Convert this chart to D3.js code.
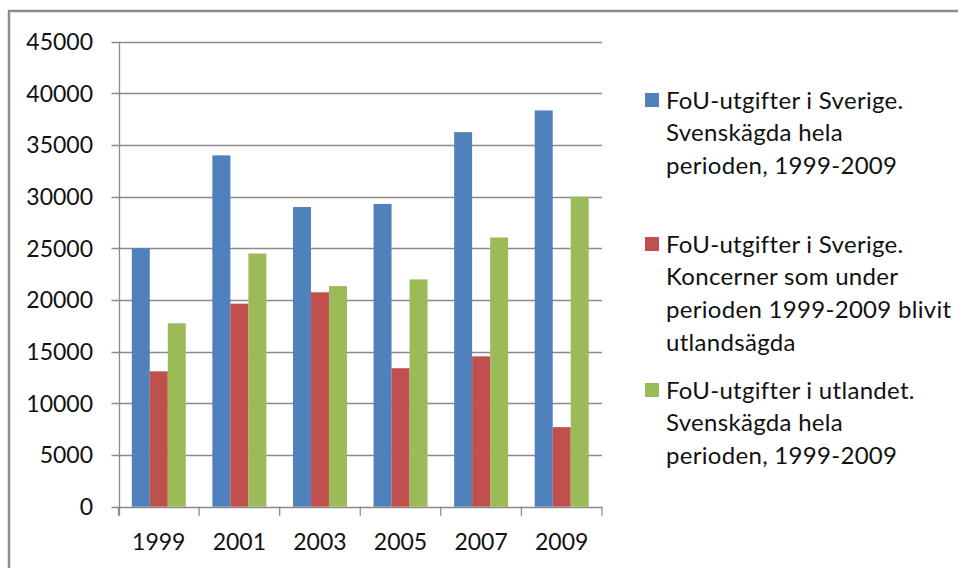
<!DOCTYPE html>
<html>
<head>
<meta charset="utf-8">
<script src="https://cdn.jsdelivr.net/npm/d3@7"></script>
<style>
  body { margin: 0; background: #fff; }
  svg { display: block; font-family: Lato, "Open Sans", sans-serif; }
</style>
</head>
<body>
<svg id="chart" width="958" height="568"></svg>
<script>
var years = ['1999', '2001', '2003', '2005', '2007', '2009'];
var sverigeSvensk = [25000, 34000, 29000, 29300, 36250, 38350];
var sverigeUtland = [13100, 19650, 20750, 13400, 14550, 7700];
var utlandetSvensk = [17750, 24500, 21350, 22000, 26050, 30000];
var yTicks = [0, 5000, 10000, 15000, 20000, 25000, 30000, 35000, 40000, 45000];

var seriesNames = [
  ['FoU-utgifter i Sverige.', 'Svenskägda hela', 'perioden, 1999-2009'],
  ['FoU-utgifter i Sverige.', 'Koncerner som under', 'perioden 1999-2009 blivit', 'utlandsägda'],
  ['FoU-utgifter i utlandet.', 'Svenskägda hela', 'perioden, 1999-2009']
];
var colors = ['#4f81bd', '#c0504d', '#9bbb59'];
var values = [sverigeSvensk, sverigeUtland, utlandetSvensk];

(function() {
  var svg = d3.select('#chart');

  // outer frame (only left and top visible)
  svg.append('path')
    .attr('d', 'M9,568V11H958')
    .attr('fill', 'none')
    .attr('stroke', '#8c8c8c')
    .attr('stroke-width', 2.5);

  var plotLeft = 118.5, plotRight = 602, plotTop = 41.7, plotBottom = 506.7;

  var y = d3.scaleLinear()
    .domain([0, 45000])
    .range([plotBottom, plotTop]);

  var x0 = d3.scaleBand()
    .domain(years)
    .range([plotLeft, plotRight])
    .paddingInner(0.33)
    .paddingOuter(0.165);

  var x1 = d3.scaleBand()
    .domain([0, 1, 2])
    .range([0, x0.bandwidth()]);

  // gridlines
  svg.append('g')
    .selectAll('line')
    .data(yTicks)
    .enter().append('line')
      .attr('x1', plotLeft - 7)
      .attr('x2', plotRight)
      .attr('y1', function(d) { return Math.round(y(d)) + 0.5; })
      .attr('y2', function(d) { return Math.round(y(d)) + 0.5; })
      .attr('stroke', '#8a8a8a')
      .attr('stroke-width', 1.3);

  // y labels
  svg.append('g')
    .selectAll('text')
    .data(yTicks)
    .enter().append('text')
      .attr('x', 93)
      .attr('y', function(d) { return y(d); })
      .attr('dy', '0.36em')
      .attr('text-anchor', 'end')
      .attr('font-size', 23)
      .attr('fill', '#111')
      .text(function(d) { return d; });

  // bars
  var groups = svg.append('g')
    .selectAll('g')
    .data(years)
    .enter().append('g')
      .attr('transform', function(d) { return 'translate(' + x0(d) + ',0)'; });

  groups.selectAll('rect')
    .data(function(d, i) {
      return values.map(function(v, s) { return { s: s, v: v[i] }; });
    })
    .enter().append('rect')
      .attr('x', function(d) { return x1(d.s); })
      .attr('y', function(d) { return y(d.v); })
      .attr('width', x1.bandwidth())
      .attr('height', function(d) { return plotBottom - y(d.v); })
      .attr('fill', function(d) { return colors[d.s]; });

  // axis lines
  svg.append('line')
    .attr('x1', Math.round(plotLeft) + 0.5).attr('x2', Math.round(plotLeft) + 0.5)
    .attr('y1', plotTop).attr('y2', plotBottom + 9)
    .attr('stroke', '#8a8a8a').attr('stroke-width', 1.3);

  var xTicks = years.map(function(d) { return x0(d) - x0.step() * x0.paddingInner() / 2; });
  xTicks.push(plotRight);
  svg.append('g')
    .selectAll('line')
    .data(xTicks)
    .enter().append('line')
      .attr('x1', function(d) { return d; })
      .attr('x2', function(d) { return d; })
      .attr('y1', plotBottom)
      .attr('y2', plotBottom + 9)
      .attr('stroke', '#8a8a8a')
      .attr('stroke-width', 1.3);

  svg.append('g')
    .selectAll('text')
    .data(years)
    .enter().append('text')
      .attr('x', function(d) { return x0(d) + x0.bandwidth() / 2; })
      .attr('y', 542)
      .attr('dy', '0.36em')
      .attr('text-anchor', 'middle')
      .attr('font-size', 23)
      .attr('fill', '#111')
      .text(function(d) { return d; });

  // legend
  var legendY = [100, 244, 390];
  var legend = svg.append('g')
    .selectAll('g')
    .data(seriesNames)
    .enter().append('g')
      .attr('transform', function(d, i) { return 'translate(645,' + legendY[i] + ')'; });

  legend.append('rect')
    .attr('x', 0)
    .attr('y', -7)
    .attr('width', 14)
    .attr('height', 14)
    .attr('fill', function(d, i) { return colors[i]; });

  legend.selectAll('text')
    .data(function(d) { return d; })
    .enter().append('text')
      .attr('x', 21)
      .attr('y', function(d, i) { return i * 32.7; })
      .attr('dy', '0.36em')
      .attr('font-size', 24)
      .attr('letter-spacing', 0.3)
      .attr('fill', '#111')
      .text(function(d) { return d; });
})();
</script>
</body>
</html>
